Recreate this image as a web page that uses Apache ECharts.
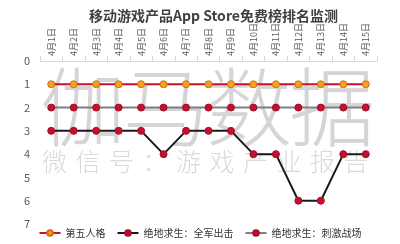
<!DOCTYPE html>
<html>
<head>
<meta charset="utf-8">
<script src="https://cdn.jsdelivr.net/npm/echarts@6/dist/echarts.min.js"></script>
<style>
	html, body { margin: 0; padding: 0; background: #fff; }
	#chart { width: 400px; height: 244px; }
</style>
</head>
<body>
<div id="chart"></div>
<script>
const days = ['4月1日', '4月2日', '4月3日', '4月4日', '4月5日', '4月6日', '4月7日', '4月8日',
	'4月9日', '4月10日', '4月11日', '4月12日', '4月13日', '4月14日', '4月15日']
const seriesNames = ['第五人格', '绝地求生：全军出击', '绝地求生：刺激战场']
const identityV = [1, 1, 1, 1, 1, 1, 1, 1, 1, 1, 1, 1, 1, 1, 1]
const pubgAllOut = [3, 3, 3, 3, 3, 4, 3, 3, 3, 4, 4, 6, 6, 4, 4]
const pubgThrill = [2, 2, 2, 2, 2, 2, 2, 2, 2, 2, 2, 2, 2, 2, 2]
const yTicks = [0, 1, 2, 3, 4, 5, 6, 7]
const markBig = '伽马数据'
const markSmall = '微信号：游戏产业报告'

const chart = echarts.init(document.getElementById('chart'))

const font = '"Noto Sans CJK SC", "Noto Sans", sans-serif'

// 水印，逐字排开
const watermark = [
	...markBig.split('').map((ch, i) => ({
		type: 'text',
		left: 40 + i * 83,
		top: 64,
		z: -1,
		style: { text: ch, fontSize: 86, fontWeight: 300, fill: '#d5d5d5', fontFamily: font }
	})),
	...markSmall.split('').map((ch, i) => ({
		type: 'text',
		left: 42 + i * 33.5,
		top: 149,
		z: -1,
		style: { text: ch, fontSize: 25, fontWeight: 300, fill: '#dadada', fontFamily: font }
	}))
]

const option = {
	animation: false,
	textStyle: { fontFamily: font },
	title: {
		text: '移动游戏产品App Store免费榜排名监测',
		left: 84,
		top: 4,
		textStyle: { fontSize: 14, fontWeight: 'bold', color: '#404040' }
	},
	graphic: watermark,
	legend: {
		bottom: 1,
		left: 'center',
		itemWidth: 21,
		itemHeight: 7,
		itemGap: 11,
		textStyle: { fontSize: 10, color: '#333' },
		data: seriesNames
	},
	grid: { left: 40, right: 23, top: 61, bottom: 20 },
	xAxis: {
		type: 'category',
		position: 'top',
		data: days,
		boundaryGap: true,
		axisLine: { lineStyle: { color: '#d9d9d9' } },
		axisTick: { show: true, lineStyle: { color: '#d9d9d9' } },
		axisLabel: { rotate: 90, fontSize: 9, color: '#595959', margin: 5, interval: 0 }
	},
	yAxis: {
		type: 'value',
		inverse: true,
		min: yTicks[0],
		max: yTicks[yTicks.length - 1],
		interval: 1,
		axisLine: { show: false },
		axisTick: { show: false },
		splitLine: { show: false },
		axisLabel: { fontSize: 11, color: '#595959', margin: 10 }
	},
	series: [
		{
			name: seriesNames[0],
			type: 'line',
			data: identityV,
			symbol: 'circle',
			symbolSize: 7,
			lineStyle: { color: '#c8102e', width: 2 },
			itemStyle: { color: '#f5a31a', borderColor: '#d2691e', borderWidth: 1 },
			z: 4
		},
		{
			name: seriesNames[1],
			type: 'line',
			data: pubgAllOut,
			symbol: 'circle',
			symbolSize: 7,
			lineStyle: { color: '#1a1a1a', width: 2 },
			itemStyle: { color: '#c8102e', borderColor: '#a00d25', borderWidth: 1 },
			z: 3
		},
		{
			name: seriesNames[2],
			type: 'line',
			data: pubgThrill,
			symbol: 'circle',
			symbolSize: 7,
			lineStyle: { color: '#7f7f7f', width: 2 },
			itemStyle: { color: '#c8102e', borderColor: '#a00d25', borderWidth: 1 },
			z: 2
		}
	]
}

chart.setOption(option)
</script>
</body>
</html>
